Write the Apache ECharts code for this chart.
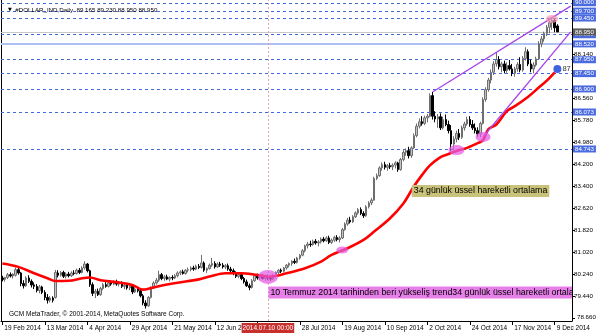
<!DOCTYPE html>
<html><head><meta charset="utf-8">
<script src="https://cdn.jsdelivr.net/npm/echarts@6/dist/echarts.min.js"></script>
<style>html,body{margin:0;padding:0;background:#fff}#c{width:600px;height:333px}</style>
</head><body><div id="c"></div>
<script>
// ---- data (daily bars, 19 Feb 2014 .. 10 Dec 2014) ----
const startDate = '2014-02-19';
const skippedDates = ['2014-04-18'];
const padBars = 5;
const opens = [
80.10,80.05,80.12,80.22,80.17,80.20,80.40,80.28,79.90,79.82,
80.10,79.98,79.85,79.80,79.65,79.78,79.58,79.40,79.30,79.38,
79.40,80.28,80.20,80.30,80.16,80.24,80.18,80.28,80.26,80.38,
80.30,80.46,80.60,80.36,79.86,79.55,79.62,79.50,79.72,79.86,
79.80,79.92,79.88,79.96,79.88,79.92,79.80,79.84,79.74,79.80,
79.60,79.70,79.64,79.46,79.20,79.10,79.40,79.74,79.92,80.02,
80.22,80.08,80.14,80.06,80.12,80.10,80.18,80.28,80.32,80.26,
80.38,80.40,80.46,80.42,80.52,80.48,80.64,80.38,80.44,80.56,
80.62,80.50,80.60,80.56,80.50,80.54,80.42,80.36,80.26,80.16,
80.22,80.08,79.96,79.82,79.76,80.00,80.18,80.10,80.16,80.08,
80.14,80.10,80.06,80.20,80.30,80.38,80.34,80.46,80.56,80.62,
80.70,80.66,80.82,80.92,81.08,81.26,81.32,81.30,81.42,81.36,
81.40,81.50,81.44,81.54,81.38,81.46,81.56,81.48,81.54,81.84,
82.04,82.18,82.12,82.30,82.44,82.56,82.42,82.34,82.66,82.80,
82.90,83.68,83.78,84.06,84.18,84.08,84.14,84.10,84.16,84.24,
84.00,84.36,84.62,84.68,84.50,84.78,85.22,85.56,85.72,85.66,
85.86,85.92,86.66,85.92,85.82,85.90,85.50,85.80,85.62,85.40,
84.92,85.10,85.30,85.16,85.50,85.64,85.80,85.62,85.50,85.40,
85.28,85.66,86.52,86.88,87.22,87.50,87.80,87.96,87.70,87.80,
87.56,87.74,87.62,87.46,87.62,87.78,87.58,88.00,88.24,87.80,
87.62,87.76,87.98,88.52,88.70,88.90,89.12,89.28,89.36,89.165];
const highs = [
80.18,80.14,80.28,80.30,80.27,80.48,80.46,80.32,80.02,80.16,
80.20,80.05,79.94,79.88,79.85,79.82,79.66,79.52,79.45,79.44,
80.39,80.38,80.35,80.36,80.30,80.32,80.34,80.38,80.44,80.46,
80.52,80.70,80.64,80.40,79.94,79.70,79.72,79.78,79.92,79.95,
79.96,80.00,80.02,80.04,79.98,79.98,79.90,79.90,79.86,79.84,
79.76,79.78,79.68,79.52,79.30,79.45,79.80,79.98,80.10,80.36,
80.28,80.20,80.22,80.16,80.20,80.24,80.34,80.38,80.40,80.42,
80.48,80.52,80.54,80.58,80.60,80.93,80.70,80.48,80.62,80.82,
80.70,80.66,80.68,80.64,80.60,80.62,80.50,80.44,80.34,80.30,
80.26,80.14,80.04,79.90,80.06,80.24,80.26,80.22,80.24,80.20,
80.22,80.18,80.24,80.34,80.42,80.44,80.50,80.60,80.66,80.74,
80.80,80.86,80.96,81.14,81.30,81.40,81.44,81.48,81.50,81.46,
81.56,81.58,81.60,81.62,81.52,81.62,81.64,81.60,81.90,82.10,
82.26,82.30,82.36,82.50,82.62,82.64,82.50,82.72,82.86,82.98,
83.74,83.86,84.12,84.26,84.28,84.20,84.24,84.22,84.30,84.28,
84.42,84.70,84.76,84.82,84.84,85.30,85.66,85.84,85.92,85.94,
86.00,86.74,86.79,86.10,86.00,86.02,85.90,85.98,85.76,85.60,
85.20,85.40,85.46,85.58,85.72,85.90,85.92,85.78,85.66,85.52,
85.72,86.60,86.96,87.30,87.60,87.90,88.20,88.08,87.88,87.92,
87.86,87.94,87.80,87.70,87.86,88.04,88.08,88.40,88.32,87.96,
87.86,88.06,88.62,88.80,88.96,89.20,89.36,89.46,89.42,89.230];
const lows = [
79.98,79.97,80.06,80.12,80.08,80.15,80.22,79.80,79.72,79.78,
79.92,79.76,79.70,79.58,79.55,79.52,79.30,79.18,79.22,79.22,
79.36,80.12,80.15,80.10,80.08,80.12,80.14,80.20,80.22,80.24,
80.26,80.40,80.30,79.78,79.45,79.38,79.45,79.46,79.66,79.75,
79.76,79.82,79.84,79.82,79.80,79.74,79.70,79.68,79.66,79.52,
79.56,79.58,79.40,79.12,79.00,79.06,79.36,79.70,79.86,79.96,
80.02,80.00,80.02,79.98,80.02,80.06,80.12,80.20,80.22,80.22,
80.30,80.34,80.36,80.38,80.42,80.44,80.32,80.28,80.40,80.50,
80.44,80.46,80.50,80.44,80.42,80.36,80.30,80.20,80.10,80.10,
80.02,79.90,79.78,79.66,79.72,79.96,80.04,80.02,80.04,80.00,
80.02,80.00,80.02,80.14,80.24,80.28,80.30,80.40,80.48,80.54,
80.60,80.62,80.76,80.88,81.02,81.16,81.22,81.26,81.30,81.24,
81.34,81.38,81.40,81.32,81.32,81.40,81.42,81.38,81.50,81.80,
81.98,82.06,82.08,82.26,82.38,82.36,82.26,82.30,82.60,82.72,
82.88,83.62,83.74,83.96,84.00,83.96,84.02,83.98,84.04,83.92,
83.96,84.30,84.50,84.40,84.42,84.74,85.16,85.48,85.58,85.60,
85.70,85.88,85.80,85.70,85.50,85.42,85.44,85.56,85.30,84.66,
84.72,84.98,85.06,85.10,85.40,85.58,85.54,85.42,85.30,85.18,
85.16,85.62,86.44,86.80,87.10,87.40,87.70,87.60,87.50,87.46,
87.48,87.56,87.36,87.34,87.52,87.50,87.52,87.92,87.72,87.50,
87.46,87.70,87.94,88.40,88.60,88.80,88.90,89.02,88.94,88.950];
const closes = [
80.05,80.12,80.22,80.17,80.24,80.40,80.28,79.90,79.82,80.10,
79.98,79.85,79.80,79.65,79.78,79.58,79.40,79.30,79.38,79.30,
80.30,80.20,80.30,80.16,80.24,80.18,80.28,80.26,80.38,80.30,
80.46,80.60,80.36,79.86,79.55,79.62,79.50,79.72,79.86,79.80,
79.92,79.88,79.96,79.88,79.92,79.80,79.84,79.74,79.80,79.60,
79.70,79.64,79.46,79.20,79.10,79.40,79.74,79.92,80.02,80.22,
80.08,80.14,80.06,80.12,80.10,80.18,80.28,80.32,80.26,80.38,
80.40,80.46,80.42,80.52,80.48,80.64,80.38,80.44,80.56,80.62,
80.50,80.60,80.56,80.50,80.54,80.42,80.36,80.26,80.16,80.22,
80.08,79.96,79.82,79.76,80.00,80.18,80.10,80.16,80.08,80.14,
80.10,80.06,80.20,80.30,80.38,80.34,80.46,80.56,80.62,80.70,
80.66,80.82,80.92,81.08,81.26,81.32,81.30,81.42,81.36,81.40,
81.50,81.44,81.54,81.38,81.46,81.56,81.48,81.54,81.84,82.04,
82.18,82.12,82.30,82.44,82.56,82.42,82.34,82.66,82.80,82.90,
83.68,83.78,84.06,84.18,84.08,84.14,84.10,84.16,84.24,84.00,
84.36,84.62,84.68,84.50,84.78,85.22,85.56,85.72,85.66,85.86,
85.92,86.66,85.92,85.82,85.90,85.50,85.80,85.62,85.40,84.92,
85.10,85.30,85.16,85.50,85.64,85.80,85.62,85.50,85.40,85.28,
85.66,86.52,86.88,87.22,87.50,87.80,87.96,87.70,87.80,87.56,
87.74,87.62,87.46,87.62,87.78,87.58,88.00,88.24,87.80,87.62,
87.76,87.98,88.52,88.70,88.90,89.12,89.28,89.36,89.10,88.950];
// 34-day EMA (red) read at these bars
const emaIdx = [0,6,12,17,20,25,30,33,37,43,49,53,56,61,66,74,78,84,90,96,101,107,114,120,124,130,136,140,146,151,155,158,161,165,168,171,175,179,181,183,186,190,193,198,202,205,208];
const emaVal = [80.62,80.50,80.27,80.09,79.99,80.00,80.09,80.12,80.02,79.95,79.85,79.68,79.74,79.85,79.93,80.05,80.15,80.27,80.27,80.21,80.15,80.27,80.45,80.69,80.93,81.17,81.47,81.77,82.25,82.78,83.40,83.80,84.15,84.45,84.56,84.67,84.78,84.95,85.06,85.45,85.62,86.10,86.28,86.62,86.95,87.20,87.50];
// y axis
const yMin = 78.553, yMax = 90.099;
const yTickValues = [78.66,79.44,80.24,81.02,81.82,82.62,83.40,84.20,84.98,85.78,86.56,88.14];
const levelValues = [90.000,89.700,89.450,88.850,88.520,87.950,87.450,86.900,86.073,84.743];
const solidLevel = 88.520;
const bidLevel = 88.950;
// annotations
const trendUpper = [[162,86.79],[214,89.88]];
const trendLower = [[181,85.17],[214,88.95]];
const ellipses = [[100,80.14,20,14],[128,81.11,12,7],[171,84.70,16,10],[181,85.17,15,10]];
const topEllipse = [207,89.42,12,8];
const emaDot = [209,87.62];
const emaDotText = '87.';
const crossIdx = 100;
const crossText = '2014.07.10 00:00';
const note1 = {idx:154, value:83.23, text:'34 günlük üssel hareketli ortalama'};
const note2 = {idx:100, value:79.58, text:'10 Temmuz 2014 tarihinden beri yükseliş trend34 günlük üssel hareketli ortalama'};
const symbolName = '#DOLLAR_IND,Daily';
const copyright = 'GCM MetaTrader, © 2001-2014, MetaQuotes Software Corp.';

// ---- build ----
const MON = ['Jan','Feb','Mar','Apr','May','Jun','Jul','Aug','Sep','Oct','Nov','Dec'];
const dates = [];
{
  let d = new Date(startDate + 'T00:00:00Z');
  while (dates.length < closes.length + padBars) {
    const iso = d.toISOString().slice(0,10);
    const wd = d.getUTCDay();
    if (wd !== 0 && wd !== 6 && skippedDates.indexOf(iso) < 0) {
      dates.push(d.getUTCDate() + ' ' + MON[d.getUTCMonth()] + ' ' + d.getUTCFullYear());
    }
    d = new Date(d.getTime() + 86400000);
  }
}
const candles = closes.map((c,i) => [opens[i], c, lows[i], highs[i]]);
const emaData = emaIdx.map((x,k) => [x, emaVal[k]]);
const FONT = "'Liberation Sans',Arial,sans-serif";
const AX = 6.5, YF = 6.2, NOTE = 8.8;
const GRID_RIGHT = 28, GRID_H = 321;
const f3 = v => v.toFixed(3);
const axisLabelValues = yTickValues.slice(1);
const edgeTick = yTickValues[0];

const levelLines = levelValues.map(v => ({
  yAxis: v,
  lineStyle: v === solidLevel ? {color:'#AFC0F2', type:'solid', width:2} : {color:'#4169E1', type:[3,3], width:1},
  label: {show:true, position:'end', distance:1, formatter: () => f3(v), color:'#fff', backgroundColor:'#4A6BE0',
          padding:[1,2,0,2], fontSize:YF, fontFamily:FONT}
}));
levelLines.push({
  yAxis: bidLevel,
  lineStyle: {color:'#C8C8C8', type:'solid', width:1},
  label: {show:true, position:'end', distance:1, formatter: () => f3(bidLevel), color:'#fff', backgroundColor:'#5a5a5a',
          padding:[1,2,0,2], fontSize:YF, fontFamily:FONT}
});

const chart = echarts.init(document.getElementById('c'), null, {renderer:'canvas'});
chart.setOption({
  animation: false,
  backgroundColor: '#ffffff',
  title: [
    {text: '{t|▼}  ' + symbolName + '  ' + [opens, highs, lows, closes].map(a => f3(a[a.length-1])).join(' '),
     left: 3, top: 2, textStyle: {fontSize: 6.2, fontWeight: 'normal', color: '#000', fontFamily: FONT,
       rich: {t: {fontSize: 5, color: '#000', fontFamily: "'DejaVu Sans',sans-serif"}}}},
    {text: copyright, left: 4, top: 306, textStyle: {fontSize: AX, fontWeight: 'normal', color: '#000', fontFamily: FONT}}
  ],
  grid: {left: 1, right: GRID_RIGHT, top: 0, height: GRID_H, containLabel: false, outerBoundsMode: 'none', show: false},
  xAxis: {
    type: 'category', data: dates, boundaryGap: true,
    axisLine: {show: true, lineStyle: {color: '#000', width: 1}},
    axisTick: {show: true, interval: 15, alignWithLabel: true, length: 4, lineStyle: {color: '#000'}},
    axisLabel: {interval: 15, align: 'left', margin: 4, padding: [0,0,0,2], fontSize: AX, color: '#000', fontFamily: FONT,
                hideOverlap: false},
    splitLine: {show: false}
  },
  yAxis: [{
    type: 'value', position: 'right', min: yMin, max: yMax, scale: true,
    axisLine: {show: true, lineStyle: {color: '#000', width: 1}},
    axisTick: {show: true, customValues: yTickValues, length: 3, lineStyle: {color: '#000'}},
    axisLabel: {customValues: axisLabelValues, formatter: v => f3(v), margin: 2, fontSize: YF, color: '#000', fontFamily: FONT,
                hideOverlap: false},
    splitLine: {show: false}
  }, {
    type: 'value', position: 'left', min: yMin, max: yMax,
    axisLine: {show: true, lineStyle: {color: '#000', width: 1}},
    axisTick: {show: false}, axisLabel: {show: false}, splitLine: {show: false}
  }],
  series: [
    {
      type: 'candlestick', data: candles, barWidth: 2, z: 2,
      itemStyle: {color: '#c4c4c4', color0: '#000000', borderColor: '#6e6e6e', borderColor0: '#000000', borderWidth: 1},
      markLine: {silent: true, symbol: ['none','none'], animation: false, z: 1, data: levelLines}
    },
    {
      type: 'line', data: emaData, smooth: 0.35, symbol: 'none', z: 4,
      lineStyle: {color: '#ff0000', width: 2.6},
      markLine: {
        silent: true, symbol: ['none','none'], animation: false,
        data: [
          [{coord: trendUpper[0]}, {coord: trendUpper[1]}],
          [{coord: trendLower[0]}, {coord: trendLower[1]}]
        ],
        lineStyle: {color: '#A844E8', type: 'solid', width: 1.3},
        label: {show: false}
      }
    },
    {
      type: 'line', data: [], z: 6,
      markLine: {
        silent: true, symbol: ['none','none'], animation: false,
        data: [{xAxis: dates[crossIdx],
          lineStyle: {color: '#E8A0AA', type: [2,2], width: 1},
          label: {show: true, position: 'start', distance: 2, formatter: crossText, color: '#fff', backgroundColor: '#C8302E',
                  padding: [2,1,1,1], fontSize: AX, fontFamily: FONT}}]
      },
      markPoint: {
        silent: true, animation: false,
        data: ellipses.map(e => ({coord: [e[0], e[1]], symbol: 'circle', symbolSize: [e[2], e[3]],
                itemStyle: {color: 'rgba(228,90,228,0.72)'}, label: {show: false}}))
          .concat([
            {coord: [topEllipse[0], topEllipse[1]], symbol: 'circle', symbolSize: [topEllipse[2], topEllipse[3]],
             itemStyle: {color: 'rgba(240,150,175,0.7)'}, label: {show: false}},
            {coord: emaDot, symbol: 'circle', symbolSize: 8, itemStyle: {color: '#3D63E0'},
             label: {show: true, position: 'right', distance: 1, formatter: emaDotText, color: '#333', fontSize: 7.5, fontFamily: FONT}},
            {coord: [note1.idx, note1.value], symbol: 'rect', symbolSize: 1, itemStyle: {color: 'rgba(0,0,0,0)'},
             label: {show: true, position: 'right', distance: 0, formatter: note1.text, color: '#000', backgroundColor: '#C9C27A',
                     padding: [2,2,1,2], fontSize: NOTE, fontFamily: FONT}}
          ])
      }
    },
    {
      // the long note is clipped by the plot edge, as in the reference
      type: 'custom', clip: true, z: 7, silent: true,
      data: [[note2.idx, note2.value]],
      renderItem: (params, api) => {
        const p = api.coord([api.value(0), api.value(1)]);
        return {
          type: 'text', x: p[0] + 0.5, y: p[1],
          style: {text: note2.text, fill: '#000', backgroundColor: '#E67FE8', padding: [2,2,1,2],
                  fontSize: NOTE, fontFamily: FONT, align: 'left', verticalAlign: 'middle'}
        };
      }
    }
  ]
});
// lowest price-scale label (at the very edge of the grid), positioned through the axis scale, on its own top layer
let edgeY = chart.convertToPixel({yAxisIndex: 0}, edgeTick);
if (Array.isArray(edgeY)) edgeY = edgeY[1];
if (!isFinite(edgeY)) edgeY = GRID_H * (yMax - edgeTick) / (yMax - yMin);
chart.setOption({
  graphic: {elements: [{type: 'text', id: 'edgeTickLabel', zlevel: 3, z: 100, silent: true,
                        x: 600 - GRID_RIGHT + 5, y: Math.round(edgeY - 4),
                        style: {text: f3(edgeTick), fill: '#000', font: YF + 'px ' + FONT}}]}
});
</script>
</body></html>
